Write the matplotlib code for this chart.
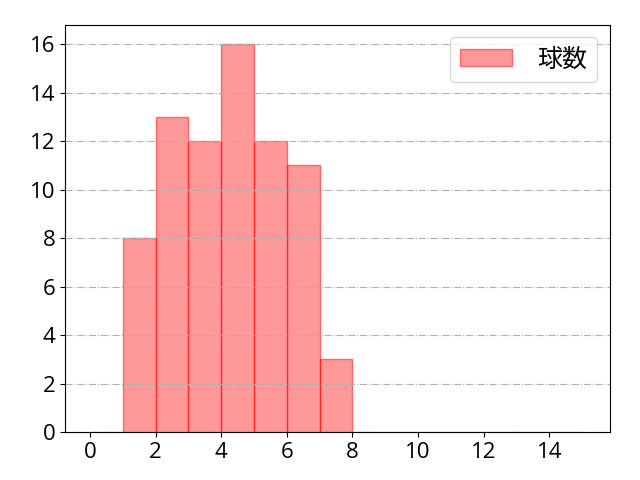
import matplotlib
matplotlib.use('Agg')
import matplotlib.pyplot as plt

plt.rcParams['font.family'] = ['Open Sans', 'Noto Sans CJK JP', 'DejaVu Sans']

# bin edges and counts
bin_left = [0, 1, 2, 3, 4, 5, 6, 7, 8, 9, 10, 11, 12, 13, 14]
counts = [0, 8, 13, 12, 16, 12, 11, 3, 0, 0, 0, 0, 0, 0, 0]
label = '球数'

fig, ax = plt.subplots(figsize=(6.4, 4.8), dpi=100)
ax.bar(bin_left, counts, width=1.0, align='edge',
       color=(1, 0, 0, 0.4), edgecolor=(1, 0, 0, 0.5), linewidth=1, label=label)
ax.set_xlim(-0.75, 15.85)
ax.set_ylim(0, 16.8)
ax.set_xticks(range(0, 15, 2))
ax.set_yticks(range(0, 17, 2))
ax.tick_params(labelsize=16)
ax.set_axisbelow(False)
ax.grid(axis='y', linestyle='-.', color='#b0b0b0', linewidth=0.8)
ax.legend(loc='upper right', fontsize=18, handlelength=2.1, handletextpad=1.0)
plt.subplots_adjust(left=0.102, right=0.953, top=0.948, bottom=0.1)
plt.savefig('out.png')
